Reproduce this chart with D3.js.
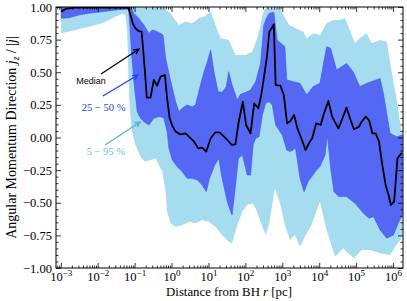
<!DOCTYPE html>
<html>
<head>
<meta charset="utf-8">
<script src="https://cdn.jsdelivr.net/npm/d3@7"></script>
<style>
  body { margin: 0; background: #fff; }
  svg { display: block; }
</style>
</head>
<body>
<svg id="chart"></svg>
<script>
// chart size
let width = 407
let height = 301
let plotLeft = 56, plotRight = 403, plotTop = 7, plotBottom = 268

// median  (log10 r [pc], jz/|j|)
let medianLogR = [-2.99, -2.87, -2.60, -2.24, -1.79, -1.34, -1.17, -1.11, -1.05, -0.98, -0.89, -0.81, -0.78, -0.72, -0.67, -0.57, -0.48, -0.39, -0.30, -0.18, -0.12, -0.05, 0.02, 0.11, 0.24, 0.38, 0.47, 0.61, 0.72, 0.83, 0.94, 1.06, 1.19, 1.30, 1.42, 1.51, 1.63, 1.73, 1.82, 1.93, 2.02, 2.14, 2.24, 2.35, 2.43, 2.50, 2.59, 2.65, 2.71, 2.77, 2.82, 2.95, 3.04, 3.13, 3.22, 3.32, 3.41, 3.50, 3.63, 3.72, 3.81, 3.92, 4.04, 4.13, 4.25, 4.35, 4.52, 4.63, 4.74, 4.85, 4.94, 5.08, 5.15, 5.26, 5.35, 5.44, 5.53, 5.62, 5.71, 5.80, 5.89, 5.94, 6.03, 6.12, 6.21, 6.25]
let medianJ = [0.964, 0.985, 0.995, 0.995, 0.997, 0.995, 0.995, 0.939, 0.875, 0.837, 0.816, 0.811, 0.709, 0.504, 0.305, 0.305, 0.441, 0.397, 0.466, 0.479, 0.300, 0.147, 0.091, 0.045, 0.024, 0.032, 0.006, -0.032, -0.083, -0.078, -0.108, -0.006, 0.040, 0.040, 0.006, -0.019, -0.057, -0.052, 0.121, 0.275, 0.096, 0.032, 0.262, 0.224, 0.326, 0.453, 0.632, 0.811, 0.837, 0.867, 0.402, 0.397, 0.326, 0.109, 0.127, 0.172, 0.070, 0.006, -0.096, -0.045, -0.006, 0.109, 0.096, 0.185, 0.280, 0.160, 0.070, 0.147, 0.229, 0.134, 0.063, 0.083, 0.121, 0.160, 0.134, 0.032, 0.032, -0.032, -0.211, -0.364, -0.453, -0.517, -0.492, -0.160, -0.126, -0.121]

// inner band, upper edge
let innerUpLogR = [-2.99, -1.11, -1.02, -0.89, -0.75, -0.61, -0.52, -0.43, -0.30, -0.23, -0.16, -0.03, 0.11, 0.20, 0.29, 0.42, 0.56, 0.65, 0.76, 0.88, 0.97, 1.06, 1.15, 1.26, 1.37, 1.48, 1.55, 1.64, 1.78, 1.87, 2.01, 2.14, 2.28, 2.41, 2.50, 2.57, 2.64, 2.77, 2.86, 3.07, 3.12, 3.30, 3.48, 3.66, 3.84, 4.02, 4.20, 4.31, 4.47, 4.74, 4.92, 5.10, 5.29, 5.65, 5.74, 5.92, 6.10, 6.25]
let innerUpJ = [1.0, 1.0, 0.951, 0.913, 0.862, 0.798, 0.824, 0.816, 0.798, 0.785, 0.607, 0.441, 0.275, 0.198, 0.224, 0.249, 0.236, 0.249, 0.377, 0.504, 0.581, 0.670, 0.504, 0.351, 0.346, 0.389, 0.504, 0.402, 0.287, 0.331, 0.346, 0.364, 0.428, 0.568, 0.862, 0.913, 0.951, 0.959, 0.747, 0.696, 0.441, 0.428, 0.415, 0.326, 0.390, 0.415, 0.696, 0.683, 0.517, 0.568, 0.504, 0.390, 0.415, 0.453, 0.338, 0.032, 0.006, 0.019]

// inner band, lower edge
let innerLoLogR = [-2.99, -2.78, -2.51, -2.24, -1.88, -1.52, -1.25, -1.16, -1.08, -1.02, -0.93, -0.84, -0.75, -0.61, -0.48, -0.34, -0.21, -0.12, -0.07, 0.02, 0.15, 0.29, 0.42, 0.56, 0.70, 0.83, 0.94, 1.03, 1.17, 1.28, 1.37, 1.51, 1.60, 1.64, 1.73, 1.81, 1.92, 2.05, 2.14, 2.21, 2.28, 2.37, 2.46, 2.55, 2.64, 2.73, 2.82, 3.00, 3.12, 3.22, 3.36, 3.48, 3.59, 3.70, 3.93, 4.02, 4.16, 4.22, 4.31, 4.40, 4.53, 4.74, 4.97, 5.20, 5.35, 5.47, 5.65, 5.83, 6.01, 6.16, 6.25]
let innerLoJ = [0.913, 0.918, 0.939, 0.952, 0.964, 0.977, 0.985, 0.985, 0.632, 0.428, 0.198, 0.147, 0.121, 0.096, 0.147, 0.160, 0.152, 0.045, -0.083, -0.172, -0.223, -0.262, -0.313, -0.313, -0.325, -0.364, -0.415, -0.313, -0.211, -0.160, -0.313, -0.492, -0.568, -0.594, -0.377, -0.160, -0.134, -0.287, -0.287, -0.057, -0.006, 0.006, 0.172, 0.262, 0.275, 0.249, 0.096, 0.019, -0.096, -0.108, -0.083, -0.313, -0.415, -0.338, -0.249, -0.223, -0.134, 0.019, -0.236, -0.415, -0.453, -0.453, -0.504, -0.581, -0.619, -0.606, -0.708, -0.772, -0.747, -0.645, -0.594]

// outer band (5 - 95 %), upper edge
let outerUpLogR = [-2.99, -0.25, -0.03, 0.20, 0.38, 0.56, 0.74, 0.88, 1.06, 1.19, 1.33, 1.55, 1.73, 2.01, 2.19, 2.32, 2.41, 2.50, 2.59, 2.94, 3.18, 3.57, 3.66, 3.84, 4.02, 4.20, 4.38, 4.56, 4.70, 4.83, 4.97, 5.10, 5.29, 5.42, 5.65, 5.83, 5.97, 6.10, 6.25]
let outerUpJ = [1.0, 1.0, 0.951, 0.862, 0.888, 0.875, 0.913, 0.926, 0.964, 0.862, 0.760, 0.747, 0.632, 0.632, 0.658, 0.760, 0.862, 0.977, 0.995, 0.985, 0.862, 0.811, 0.760, 0.798, 0.785, 0.875, 0.900, 0.900, 0.913, 0.824, 0.722, 0.760, 0.798, 0.722, 0.747, 0.734, 0.492, 0.287, 0.006]

// outer band, lower edge
let outerLoLogR = [-2.99, -2.60, -2.24, -1.88, -1.52, -1.34, -1.25, -1.20, -1.17, -1.14, -1.07, -0.98, -0.84, -0.72, -0.57, -0.43, -0.25, -0.16, -0.12, -0.03, 0.11, 0.29, 0.47, 0.65, 0.83, 1.01, 1.19, 1.37, 1.55, 1.64, 1.78, 1.92, 2.05, 2.19, 2.28, 2.41, 2.55, 2.64, 2.80, 2.94, 3.07, 3.21, 3.34, 3.48, 3.61, 3.79, 4.02, 4.20, 4.43, 4.65, 4.94, 5.15, 5.38, 5.65, 5.92, 6.06, 6.20, 6.25]
let outerLoJ = [0.798, 0.824, 0.849, 0.875, 0.926, 0.951, 0.939, 0.811, 0.504, 0.249, 0.045, -0.057, -0.147, -0.185, -0.172, -0.160, -0.262, -0.415, -0.568, -0.658, -0.683, -0.670, -0.645, -0.658, -0.632, -0.645, -0.683, -0.747, -0.798, -0.811, -0.670, -0.568, -0.517, -0.504, -0.543, -0.645, -0.747, -0.670, -0.389, -0.504, -0.670, -0.785, -0.747, -0.836, -0.760, -0.670, -0.492, -0.708, -0.913, -0.849, -0.926, -0.862, -0.862, -0.887, -0.900, -0.836, -0.785, -0.747]

// ticks
let xMajor = [-3, -2, -1, 0, 1, 2, 3, 4, 5, 6]
let yMajor = [-1, -0.75, -0.5, -0.25, 0, 0.25, 0.5, 0.75, 1]

let lightBlue = '#a6dcef'
let darkBlue = '#5468f4'
let serif = '"Liberation Serif", "Times New Roman", serif'

let svg = d3.select('#chart')
            .attr('width', width)
            .attr('height', height)

let xScale = d3.scaleLog()
               .domain([Math.pow(10, -3.13), Math.pow(10, 6.27)])
               .range([plotLeft, plotRight])
let yScale = d3.scaleLinear()
               .domain([-1, 1])
               .range([plotBottom, plotTop])

let px = l => xScale(Math.pow(10, l))

svg.append('clipPath').attr('id', 'clip')
   .append('rect')
   .attr('x', plotLeft).attr('y', plotTop)
   .attr('width', plotRight - plotLeft).attr('height', plotBottom - plotTop)

let plot = svg.append('g').attr('clip-path', 'url(#clip)')

// band = upper edge forward, lower edge back
function bandPoints(upL, upJ, loL, loJ) {
    let pts = upL.map((l, i) => [l, upJ[i]])
    for (let i = loL.length - 1; i >= 0; i--) pts.push([loL[i], loJ[i]])
    return pts
}

let line = d3.line()
             .x(d => px(d[0]))
             .y(d => yScale(d[1]))

plot.append('path')
    .attr('d', line(bandPoints(outerUpLogR, outerUpJ, outerLoLogR, outerLoJ)) + 'Z')
    .attr('fill', lightBlue)

plot.append('path')
    .attr('d', line(bandPoints(innerUpLogR, innerUpJ, innerLoLogR, innerLoJ)) + 'Z')
    .attr('fill', darkBlue)
    .attr('stroke', '#3f55f2')
    .attr('stroke-width', 0.6)

plot.append('path')
    .attr('d', line(medianLogR.map((l, i) => [l, medianJ[i]])))
    .attr('fill', 'none')
    .attr('stroke', '#000')
    .attr('stroke-width', 1.8)
    .attr('stroke-linejoin', 'round')

// axes, ticks pointing inwards on all four sides
let xMinor = []
for (let e = -4; e <= 6; e++) {
    for (let m = 2; m <= 9; m++) {
        let v = m * Math.pow(10, e)
        if (v > xScale.domain()[0] && v < xScale.domain()[1]) xMinor.push(v)
    }
}
let yMinor = d3.range(-1, 1.001, 0.05).map(v => +v.toFixed(2))
               .filter(v => yMajor.indexOf(v) < 0)

function axisStyle(g) {
    g.select('.domain').remove()
    g.selectAll('line').attr('stroke', '#000').attr('stroke-width', 0.8)
    g.selectAll('text').attr('font-family', serif).attr('font-size', 12.5).attr('fill', '#000')
}

let xMajorVals = xMajor.map(e => Math.pow(10, e))

let gx = svg.append('g')
            .attr('transform', 'translate(0,' + plotBottom + ')')
            .call(d3.axisBottom(xScale).tickValues(xMajorVals).tickSize(-5).tickPadding(4).tickFormat(d => d))
            .call(axisStyle)
svg.append('g')
   .attr('transform', 'translate(0,' + plotBottom + ')')
   .call(d3.axisBottom(xScale).tickValues(xMinor).tickSize(-2.5).tickFormat(''))
   .call(axisStyle)
svg.append('g')
   .attr('transform', 'translate(0,' + plotTop + ')')
   .call(d3.axisTop(xScale).tickValues(xMajorVals).tickSize(-5).tickFormat(''))
   .call(axisStyle)
svg.append('g')
   .attr('transform', 'translate(0,' + plotTop + ')')
   .call(d3.axisTop(xScale).tickValues(xMinor).tickSize(-2.5).tickFormat(''))
   .call(axisStyle)

// 10^n labels
gx.selectAll('.tick text')
  .each(function(d) {
      let t = d3.select(this)
      let e = Math.round(Math.log10(d))
      t.text('').attr('y', 12.5).attr('dy', 0)
      t.append('tspan').text('10')
      t.append('tspan').attr('dy', -5).attr('font-size', 9).text(String(e).replace('-', '\u2212'))
  })

svg.append('g')
   .attr('transform', 'translate(' + plotLeft + ',0)')
   .call(d3.axisLeft(yScale).tickValues(yMajor).tickSize(-5).tickPadding(4).tickFormat(d3.format('.2f')))
   .call(axisStyle)
svg.append('g')
   .attr('transform', 'translate(' + plotLeft + ',0)')
   .call(d3.axisLeft(yScale).tickValues(yMinor).tickSize(-2.5).tickFormat(''))
   .call(axisStyle)
svg.append('g')
   .attr('transform', 'translate(' + plotRight + ',0)')
   .call(d3.axisRight(yScale).tickValues(yMajor).tickSize(-5).tickFormat(''))
   .call(axisStyle)
svg.append('g')
   .attr('transform', 'translate(' + plotRight + ',0)')
   .call(d3.axisRight(yScale).tickValues(yMinor).tickSize(-2.5).tickFormat(''))
   .call(axisStyle)

svg.append('rect')
   .attr('x', plotLeft).attr('y', plotTop)
   .attr('width', plotRight - plotLeft).attr('height', plotBottom - plotTop)
   .attr('fill', 'none').attr('stroke', '#000').attr('stroke-width', 1)

// axis titles
let xt = svg.append('text')
            .attr('x', 229)
            .attr('y', 296)
            .attr('text-anchor', 'middle')
            .attr('font-family', serif).attr('font-size', 12.8)
xt.append('tspan').text('Distance from BH ')
xt.append('tspan').attr('font-style', 'italic').text('r')
xt.append('tspan').text(' [pc]')

let yt = svg.append('text')
            .attr('transform', 'translate(16,' + ((plotTop + plotBottom) / 2) + ') rotate(-90)')
            .attr('text-anchor', 'middle')
            .attr('font-family', serif).attr('font-size', 14)
yt.append('tspan').text('Angular Momentum Direction ')
yt.append('tspan').attr('font-style', 'italic').text('j')
yt.append('tspan').attr('font-style', 'italic').attr('font-size', 9.5).attr('dy', 2.5).text('z')
yt.append('tspan').attr('dy', -2.5).text(' / |')
yt.append('tspan').attr('font-style', 'italic').text('j')
yt.append('tspan').text('|')

// annotations (log r, j)
let notes = [
    {text: 'Median', color: '#000', font: '"Liberation Sans", Arial, sans-serif', size: 9,
     at: [-2.18, 0.41], tail: [-1.91, 0.487], tip: [-0.88, 0.678]},
    {text: '25 \u2212 50 %', color: '#2340ff', font: serif, size: 10.5,
     at: [-1.84, 0.203], tail: [-1.86, 0.318], tip: [-0.91, 0.479]},
    {text: '5 \u2212 95 %', color: '#6fb9d6', font: serif, size: 10.5,
     at: [-1.78, -0.134], tail: [-1.80, -0.057], tip: [-0.85, 0.119], arrow: '#55b2cf'}
]

notes.forEach(n => {
    svg.append('text')
       .attr('x', px(n.at[0])).attr('y', yScale(n.at[1]))
       .attr('text-anchor', 'middle')
       .attr('font-family', n.font).attr('font-size', n.size)
       .attr('fill', n.color)
       .text(n.text)
    let x0 = px(n.tail[0]), y0 = yScale(n.tail[1])
    let x1 = px(n.tip[0]), y1 = yScale(n.tip[1])
    let a = Math.atan2(y1 - y0, x1 - x0), h = 6, s = 0.45
    let col = n.arrow || n.color
    svg.append('path')
       .attr('d', 'M' + x0 + ',' + y0 + 'L' + x1 + ',' + y1 +
                  'M' + (x1 - h * Math.cos(a - s)) + ',' + (y1 - h * Math.sin(a - s)) +
                  'L' + x1 + ',' + y1 +
                  'L' + (x1 - h * Math.cos(a + s)) + ',' + (y1 - h * Math.sin(a + s)))
       .attr('fill', 'none').attr('stroke', col).attr('stroke-width', 1.3)
})
</script>
</body>
</html>
